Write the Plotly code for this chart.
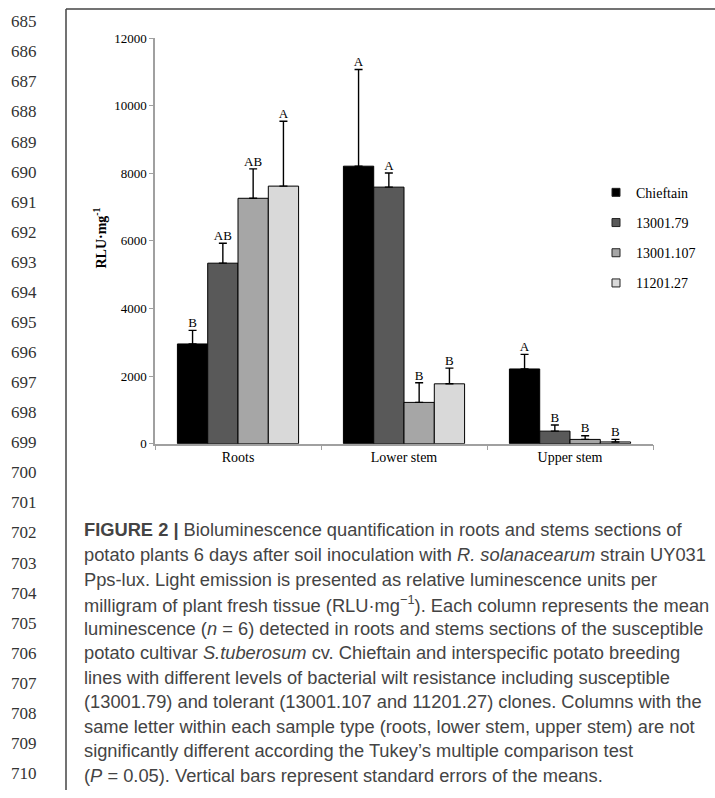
import plotly.graph_objects as go

W, H = 715, 798

categories = ["Roots", "Lower stem", "Upper stem"]
series_names = ["Chieftain", "13001.79", "13001.107", "11201.27"]
means = {
    "Chieftain": [2950, 8210, 2210],
    "13001.79": [5340, 7590, 370],
    "13001.107": [7260, 1220, 125],
    "11201.27": [7620, 1770, 50],
}
errors = {
    "Chieftain": [400, 2860, 430],
    "13001.79": [590, 420, 180],
    "13001.107": [870, 580, 110],
    "11201.27": [1920, 465, 75],
}
letters = {
    "Chieftain": ["B", "A", "A"],
    "13001.79": ["AB", "A", "B"],
    "13001.107": ["AB", "B", "B"],
    "11201.27": ["A", "B", "B"],
}
colors = {
    "Chieftain": "#000000",
    "13001.79": "#595959",
    "13001.107": "#a6a6a6",
    "11201.27": "#d9d9d9",
}
y_ticks = [0, 2000, 4000, 6000, 8000, 10000, 12000]
line_numbers = list(range(685, 711))

caption_lines = [
    "<b>FIGURE 2 |</b> Bioluminescence quantification in roots and stems sections of",
    "potato plants 6 days after soil inoculation with <i>R. solanacearum</i> strain UY031",
    "Pps-lux. Light emission is presented as relative luminescence units per",
    "milligram of plant fresh tissue (RLU·mg<sup>−1</sup>). Each column represents the mean",
    "luminescence (<i>n</i> = 6) detected in roots and stems sections of the susceptible",
    "potato cultivar <i>S.tuberosum</i> cv. Chieftain and interspecific potato breeding",
    "lines with different levels of bacterial wilt resistance including susceptible",
    "(13001.79) and tolerant (13001.107 and 11201.27) clones. Columns with the",
    "same letter within each sample type (roots, lower stem, upper stem) are not",
    "significantly different according the Tukey’s multiple comparison test",
    "(<i>P</i> = 0.05). Vertical bars represent standard errors of the means.",
]

SERIF = "Liberation Serif"
SANS = "Liberation Sans"


def px(x):
    return x / W


def py(y):
    return 1 - y / H


fig = go.Figure()

for name in series_names:
    fig.add_trace(go.Bar(
        x=categories, y=means[name], name=name,
        marker=dict(color=colors[name], line=dict(color="#000000", width=1)),
        error_y=dict(type="data", symmetric=False, array=errors[name],
                     arrayminus=[0] * len(categories), color="#000000",
                     thickness=1.4, width=4),
        offsetgroup=name, showlegend=False,
    ))

for name in series_names:
    fig.add_trace(go.Scatter(
        x=categories,
        y=[m + e for m, e in zip(means[name], errors[name])],
        text=letters[name], mode="text", textposition="top center",
        textfont=dict(family=SERIF, size=13, color="#000000"),
        offsetgroup=name, showlegend=False, hoverinfo="skip",
    ))

# legend-only entries (small square swatches like the reference)
for name in series_names:
    fig.add_trace(go.Scatter(
        x=[None], y=[None], mode="markers", name=name, legendgroup=name,
        marker=dict(symbol="square", size=8, color=colors[name],
                    line=dict(color="#222222", width=1)),
        showlegend=True,
    ))

annotations = []
for k, n in enumerate(line_numbers):
    annotations.append(dict(
        x=px(24), y=py(15 + k * 30.65), xref="paper", yref="paper",
        text=str(n), showarrow=False, xanchor="center", yanchor="middle",
        font=dict(family=SERIF, size=17, color="#333333"),
    ))

for k, line in enumerate(caption_lines):
    annotations.append(dict(
        x=px(82), y=py(533 + k * 25.0), xref="paper", yref="paper",
        text=line, showarrow=False, xanchor="left", yanchor="middle",
        font=dict(family=SANS, size=18.3, color="#444444"),
    ))

annotations.append(dict(
    x=px(100), y=py(236), xref="paper", yref="paper",
    text="<b>RLU·mg<sup>-1</sup></b>", showarrow=False, textangle=-90,
    xanchor="center", yanchor="middle",
    font=dict(family=SERIF, size=14, color="#000000"),
))

shapes = [
    dict(type="line", xref="paper", yref="paper", x0=px(66), x1=px(66),
         y0=0, y1=py(2), line=dict(color="#444444", width=1.5)),
    dict(type="line", xref="paper", yref="paper", x0=px(66), x1=1,
         y0=py(2), y1=py(2), line=dict(color="#444444", width=1.5)),
]

fig.update_layout(
    width=W, height=H,
    margin=dict(l=0, r=0, t=0, b=0),
    paper_bgcolor="white", plot_bgcolor="white",
    barmode="group", bargap=0.27, bargroupgap=0,
    scattermode="group", scattergap=0.27,
    showlegend=True,
    legend=dict(
        x=px(596), y=py(173), xanchor="left", yanchor="top",
        font=dict(family=SERIF, size=14, color="#000000"),
        tracegroupgap=9, itemwidth=30, bgcolor="rgba(0,0,0,0)",
    ),
    xaxis=dict(
        domain=[px(155), px(653)],
        showline=True, linecolor="#a0a0a0", linewidth=1.5,
        ticks="outside", tickson="boundaries", ticklen=5, tickcolor="#a0a0a0",
        tickfont=dict(family=SERIF, size=14, color="#000000"),
        showgrid=False, zeroline=False,
    ),
    yaxis=dict(
        domain=[py(445), py(31.7)],
        range=[0, 12000], tickvals=y_ticks,
        ticktext=[str(v) for v in y_ticks],
        showline=True, linecolor="#a0a0a0", linewidth=1.5,
        ticks="outside", ticklen=4, tickcolor="#a0a0a0",
        tickfont=dict(family=SERIF, size=13, color="#000000"),
        showgrid=False, zeroline=False,
    ),
    annotations=annotations,
    shapes=shapes,
)

fig.write_html(
    "out.html",
    config={"displayModeBar": False},
    post_script="document.body.style.margin='0px';",
)
